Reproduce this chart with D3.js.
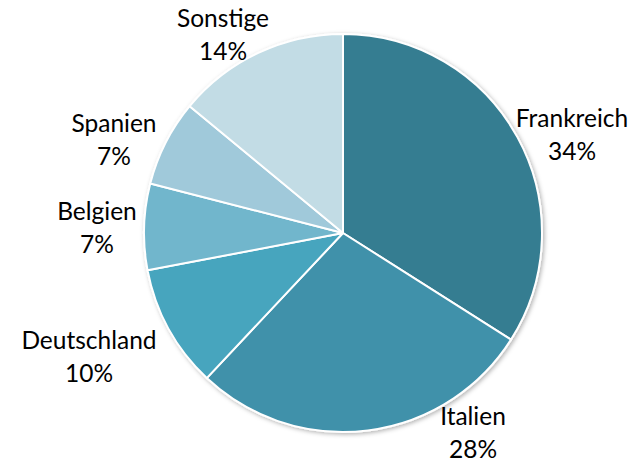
<!DOCTYPE html>
<html>
<head>
<meta charset="utf-8">
<script src="https://cdn.jsdelivr.net/npm/d3@7"></script>
<style>
  html, body { margin: 0; padding: 0; background: #ffffff; }
  svg { display: block; }
</style>
</head>
<body>
<svg id="chart" width="644" height="462"></svg>
<script>
// ---- data ----
const categories = ["Frankreich", "Italien", "Deutschland", "Belgien", "Spanien", "Sonstige"];
const values = [34, 28, 10, 7, 7, 14];
const percentLabels = ["34%", "28%", "10%", "7%", "7%", "14%"];

// ---- style / layout ----
const colors = ["#367D91", "#4191AA", "#47A5BE", "#71B6CC", "#A0C9DA", "#C2DCE5"];
// label anchor (centre x, baseline of first line) for each category
const labelAnchors = [[572, 127], [473, 425], [89, 349], [97, 220], [114, 132], [223, 27]];
const lineGap = 32.5;

const W = 644, H = 462;
const cx = 343, cy = 233, R = 199;

const svg = d3.select("#chart");

const defs = svg.append("defs");
const f = defs.append("filter").attr("id", "shadow")
  .attr("x", "-10%").attr("y", "-10%").attr("width", "120%").attr("height", "120%");
f.append("feDropShadow").attr("dx", 1.5).attr("dy", 1.5).attr("stdDeviation", 2)
  .attr("flood-color", "#000").attr("flood-opacity", 0.3);

const pie = d3.pie().sort(null).value(d => d)
  .startAngle(0).endAngle(2 * Math.PI);
const arcs = pie(values);
const arcGen = d3.arc().innerRadius(0).outerRadius(R);

const g = svg.append("g").attr("transform", `translate(${cx},${cy})`);

g.append("g").attr("filter", "url(#shadow)")
  .selectAll("path").data(arcs).enter().append("path")
  .attr("d", arcGen)
  .attr("fill", (d, i) => colors[i])
  .attr("stroke", "#ffffff")
  .attr("stroke-width", 2)
  .attr("stroke-linejoin", "round");

const labels = svg.append("g")
  .attr("font-family", "Lato, 'Open Sans', sans-serif")
  .attr("font-size", 24.5)
  .attr("fill", "#000")
  .attr("text-anchor", "middle");

categories.forEach((c, i) => {
  const [x, y] = labelAnchors[i];
  const t = labels.append("text").attr("x", x).attr("y", y);
  t.append("tspan").attr("x", x).attr("y", y).text(c);
  t.append("tspan").attr("x", x).attr("y", y + lineGap).text(percentLabels[i]);
});
</script>
</body>
</html>
